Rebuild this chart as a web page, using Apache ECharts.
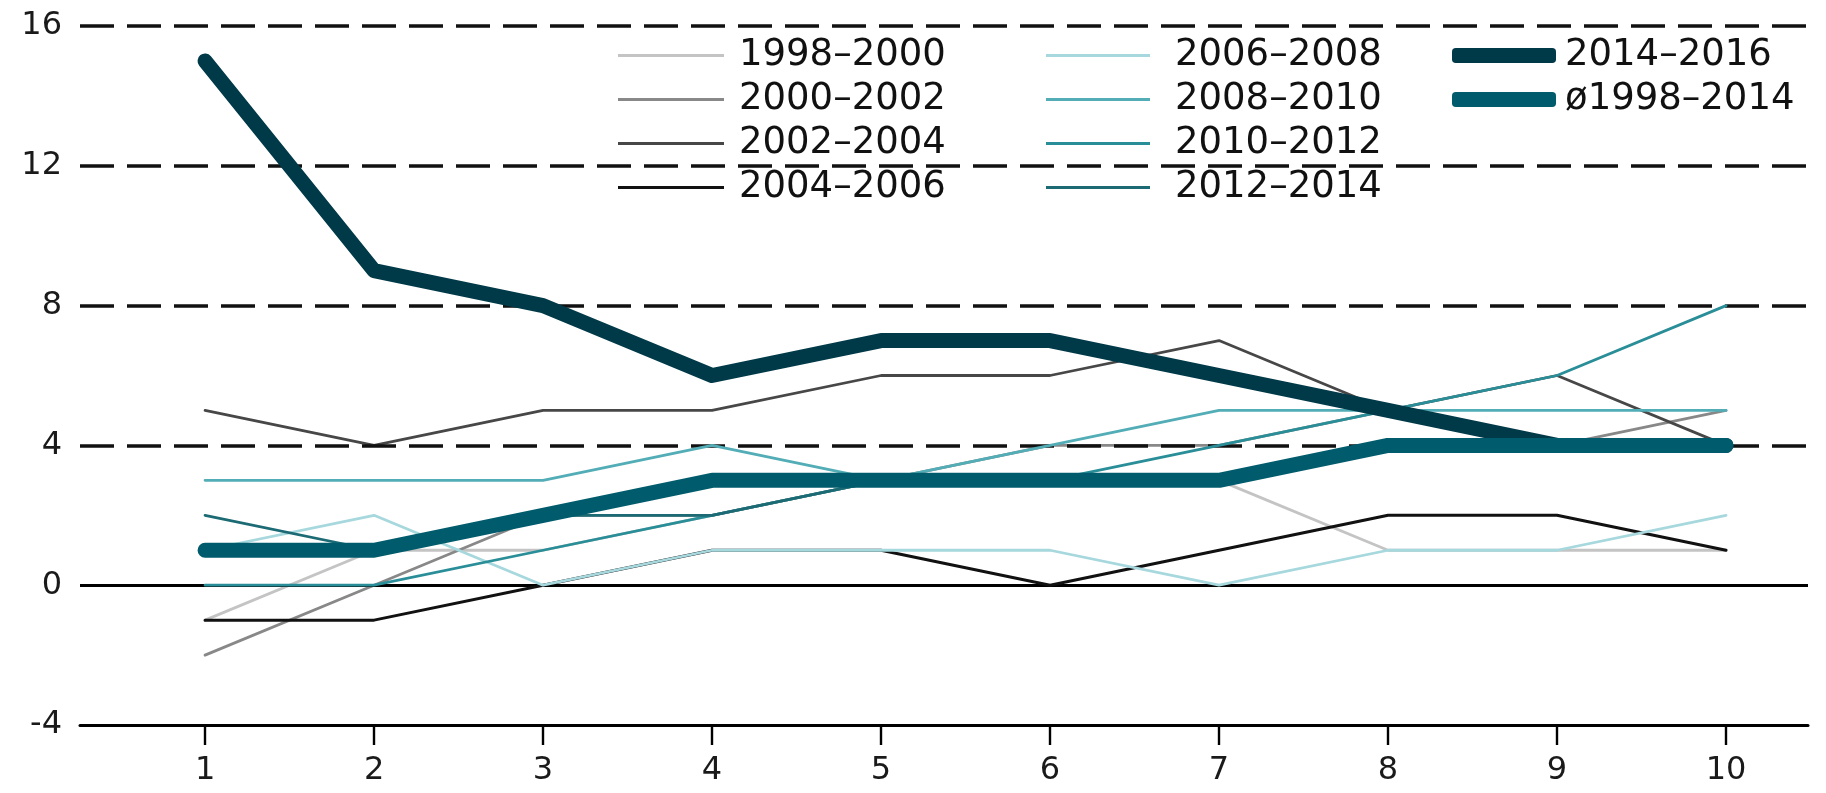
<!DOCTYPE html>
<html>
<head>
<meta charset="utf-8">
<script src="https://cdn.jsdelivr.net/npm/echarts@6/dist/echarts.min.js"></script>
<style>
html,body{margin:0;padding:0;background:#fff;}
#chart{width:1826px;height:793px;}
</style>
</head>
<body>
<div id="chart"></div>
<script>
// ---- data ----
const categories = [1, 2, 3, 4, 5, 6, 7, 8, 9, 10];
const yTicks = [-4, 0, 4, 8, 12, 16];
const dashedLevels = [4, 8, 12, 16];

const s1998_2000 = [-1, 1, 1, 2, 3, 3, 3, 1, 1, 1];
const s2000_2002 = [-2, 0, 2, 2, 3, 4, 4, 5, 4, 5];
const s2002_2004 = [5, 4, 5, 5, 6, 6, 7, 5, 6, 4];
const s2004_2006 = [-1, -1, 0, 1, 1, 0, 1, 2, 2, 1];
const s2006_2008 = [1, 2, 0, 1, 1, 1, 0, 1, 1, 2];
const s2008_2010 = [3, 3, 3, 4, 3, 4, 5, 5, 5, 5];
const s2010_2012 = [0, 0, 1, 2, 3, 3, 4, 5, 6, 8];
const s2012_2014 = [2, 1, 2, 2, 3, 3, 3, 4, 4, 4];
const s2014_2016 = [15, 9, 8, 6, 7, 7, 6, 5, 4, 4];
const sAvg = [1, 1, 2, 3, 3, 3, 3, 4, 4, 4];

const names = ['1998–2000','2000–2002','2002–2004','2004–2006','2006–2008','2008–2010','2010–2012','2012–2014','2014–2016','ø1998–2014'];
const colors = ['#c4c4c4','#888888','#474747','#111111','#a6d8dd','#52adb6','#2a8e98','#1b6a74','#003a48','#005c6c'];
const values = [s1998_2000,s2000_2002,s2002_2004,s2004_2006,s2006_2008,s2008_2010,s2010_2012,s2012_2014,s2014_2016,sAvg];
const widths = [2.8,2.8,2.8,3,2.8,2.8,2.8,2.8,15,15];

const FONT = 'DejaVu Sans';

const series = values.map((vals, k) => {
  const s = {
    name: names[k],
    type: 'line',
    data: categories.map((c, i) => [c, vals[i]]),
    showSymbol: false,
    symbol: 'none',
    silent: true,
    z: k >= 8 ? 10 + k : 2 + k,
    color: colors[k],
    itemStyle: { color: colors[k] },
    lineStyle: { color: colors[k], width: widths[k], cap: 'round', join: 'round' }
  };
  if (k === 0) {
    s.markLine = {
      silent: true,
      symbol: ['none', 'none'],
      label: { show: false },
      data: [
        { yAxis: 0, lineStyle: { type: 'solid', color: '#000', width: 3 } }
      ].concat(dashedLevels.map(v => ({ yAxis: v, lineStyle: { type: [34, 13], color: '#111', width: 3.6 } })))
    };
  }
  return s;
});

const legendText = { fontFamily: FONT, fontSize: 37, color: '#111', lineHeight: 36 };

const chart = echarts.init(document.getElementById('chart'), null, { renderer: 'canvas' });
chart.setOption({
  animation: false,
  backgroundColor: '#ffffff',
  grid: { left: 80, right: 18, top: 26, bottom: 68, outerBoundsMode: 'none' },
  legend: [
    {
      data: names.slice(0, 4), orient: 'vertical', left: 618, top: 37, padding: 0,
      itemWidth: 106, itemHeight: 3, itemGap: 7, icon: 'rect',
      textStyle: Object.assign({ padding: [0, 0, 0, 10] }, legendText)
    },
    {
      data: names.slice(4, 8), orient: 'vertical', left: 1046, top: 37, padding: 0,
      itemWidth: 104, itemHeight: 3, itemGap: 7, icon: 'rect',
      textStyle: Object.assign({ padding: [0, 0, 0, 20] }, legendText)
    },
    {
      data: names.slice(8, 10), orient: 'vertical', left: 1452, top: 37, padding: 0,
      itemWidth: 104, itemHeight: 15, itemGap: 7, icon: 'roundRect',
      textStyle: Object.assign({ padding: [0, 0, 0, 4] }, legendText)
    }
  ],
  xAxis: {
    type: 'value',
    min: 0.26,
    max: 10.485,
    axisLine: { show: true, onZero: false, lineStyle: { color: '#000', width: 3 } },
    axisTick: { show: true, customValues: categories, length: 20, lineStyle: { color: '#000', width: 2.4 } },
    axisLabel: {
      customValues: categories,
      formatter: v => String(v),
      fontFamily: FONT, fontSize: 32, color: '#1a1a1a', margin: 30
    },
    splitLine: { show: false }
  },
  yAxis: {
    type: 'value',
    min: yTicks[0],
    max: yTicks[yTicks.length - 1],
    interval: 4,
    axisLine: { show: false },
    axisTick: { show: false },
    axisLabel: { fontFamily: FONT, fontSize: 32, color: '#1a1a1a', margin: 18 },
    splitLine: { show: false }
  },
  series: series
});
</script>
</body>
</html>
